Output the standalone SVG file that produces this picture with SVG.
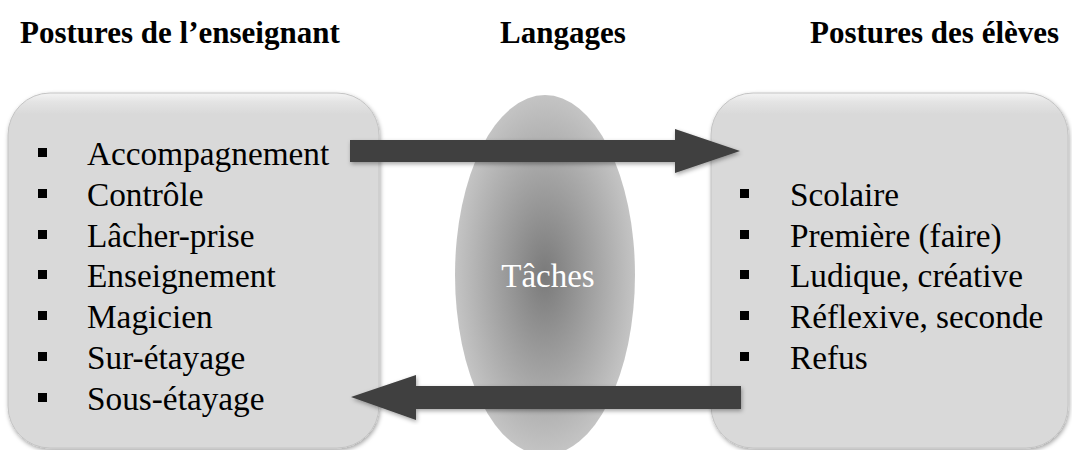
<svg xmlns="http://www.w3.org/2000/svg" width="1072" height="450" viewBox="0 0 1072 450">
<style>
.head{font-family:"Liberation Serif","Times New Roman",serif;font-weight:bold;font-size:31px;fill:#000}
.li{font-family:"Liberation Serif","Times New Roman",serif;font-size:33.3px;fill:#000}
.taches{font-family:"Liberation Serif","Times New Roman",serif;font-size:33px;fill:#fff}
.box{fill:url(#boxGrad);stroke:#c4c4c4;stroke-width:1;filter:url(#shadow)}
.arrow{fill:#404040;filter:url(#shadow)}
.bul{fill:#000}
</style>
<defs>
<linearGradient id="boxGrad" x1="0" y1="0" x2="0" y2="1">
<stop offset="0" stop-color="#f4f4f4"/>
<stop offset="0.025" stop-color="#e4e4e4"/>
<stop offset="0.06" stop-color="#d9d9d9"/>
<stop offset="1" stop-color="#d9d9d9"/>
</linearGradient>
<radialGradient id="ellGrad" cx="0.5" cy="0.5" r="0.5">
<stop offset="0" stop-color="#7a7a7a"/>
<stop offset="1" stop-color="#c4c4c4"/>
</radialGradient>
<filter id="shadow" x="-10%" y="-10%" width="120%" height="120%">
<feDropShadow dx="1" dy="2" stdDeviation="2" flood-color="#000" flood-opacity="0.35"/>
</filter>
</defs>
<g id="headings">
<text class="head" x="20" y="43">Postures de l’enseignant</text>
<text class="head" x="500" y="43">Langages</text>
<text class="head" x="810" y="43">Postures des élèves</text>
</g>
<g id="node-taches">
<ellipse cx="545" cy="275" rx="90" ry="180" fill="url(#ellGrad)"/>
<text class="taches" x="548" y="287" text-anchor="middle">Tâches</text>
</g>
<g id="node-enseignant">
<rect class="box" x="8" y="93" width="371" height="355" rx="42" ry="42"/>
<g class="bul">
<rect x="38" y="148" width="9" height="9"/>
<rect x="38" y="189" width="9" height="9"/>
<rect x="38" y="230" width="9" height="9"/>
<rect x="38" y="270" width="9" height="9"/>
<rect x="38" y="311" width="9" height="9"/>
<rect x="38" y="352" width="9" height="9"/>
<rect x="38" y="393" width="9" height="9"/>
</g>
<text class="li" x="87" y="165">Accompagnement</text>
<text class="li" x="87" y="206">Contrôle</text>
<text class="li" x="87" y="247">Lâcher-prise</text>
<text class="li" x="87" y="287">Enseignement</text>
<text class="li" x="87" y="328">Magicien</text>
<text class="li" x="87" y="369">Sur-étayage</text>
<text class="li" x="87" y="410">Sous-étayage</text>
</g>
<g id="node-eleves">
<rect class="box" x="711" y="93" width="357" height="355" rx="42" ry="42"/>
<g class="bul">
<rect x="740" y="189" width="9" height="9"/>
<rect x="740" y="230" width="9" height="9"/>
<rect x="740" y="270" width="9" height="9"/>
<rect x="740" y="311" width="9" height="9"/>
<rect x="740" y="352" width="9" height="9"/>
</g>
<text class="li" x="790" y="206">Scolaire</text>
<text class="li" x="790" y="247">Première (faire)</text>
<text class="li" x="790" y="287">Ludique, créative</text>
<text class="li" x="790" y="328">Réflexive, seconde</text>
<text class="li" x="790" y="369">Refus</text>
</g>
<g id="connectors">
<polygon class="arrow" points="350,140 675,140 675,129 740,151 675,173 675,162 350,162"/>
<polygon class="arrow" points="741,386 416,386 416,375 351,397 416,420 416,409 741,409"/>
</g>
</svg>
